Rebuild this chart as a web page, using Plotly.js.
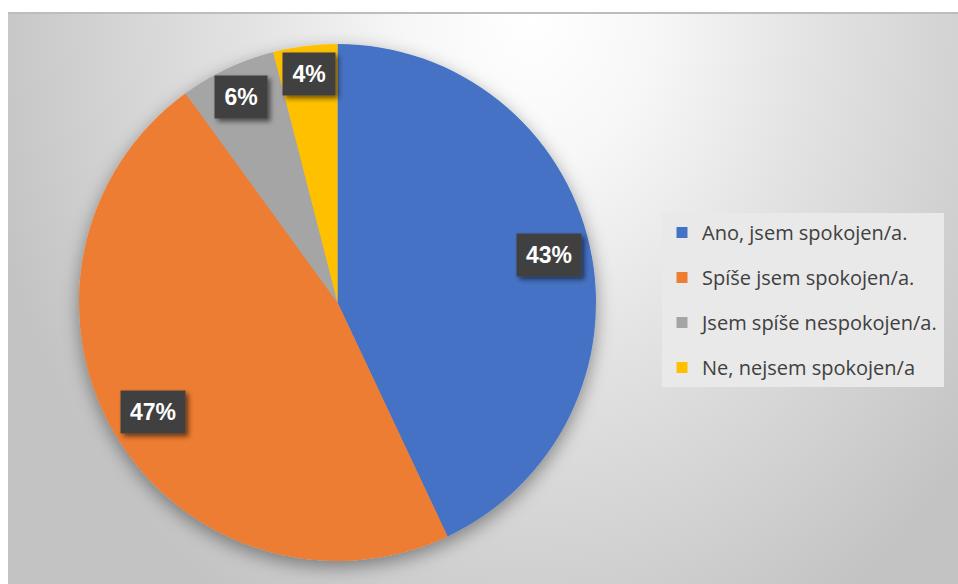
<!DOCTYPE html>
<html><head><meta charset="utf-8">
<script src="https://cdn.plot.ly/plotly-3.0.1.min.js"></script>
<style>
html,body{margin:0;padding:0;background:#fff;}
#wrap{position:relative;width:958px;height:584px;overflow:hidden;background:#fff;}
#bg{position:absolute;left:8px;top:12px;right:0;bottom:0;border-top:2px solid #bdbdbd;
 background:radial-gradient(ellipse 560px 700px at 522px 0px,#ffffff 0%,#f7f7f7 22%,#e3e3e3 50%,#cfcfcf 82%,#c3c3c3 100%);}
#chart{position:absolute;left:0;top:0;width:958px;height:584px;}
</style></head>
<body>
<svg width="0" height="0" style="position:absolute">
 <defs>
  <filter id="pieShadow" x="-20%" y="-20%" width="140%" height="140%">
   <feDropShadow dx="0" dy="6" stdDeviation="9" flood-color="#000" flood-opacity="0.4"/>
  </filter>
  <filter id="boxShadow" x="-30%" y="-30%" width="160%" height="160%">
   <feDropShadow dx="3" dy="3" stdDeviation="2.5" flood-color="#000" flood-opacity="0.55"/>
  </filter>
 </defs>
</svg>
<div id="wrap"><div id="bg"></div><div id="chart"></div></div>
<script>
// ---- data ----
const categories = ["Ano, jsem spokojen/a.", "Spíše jsem spokojen/a.", "Jsem spíše nespokojen/a.", "Ne, nejsem spokojen/a"];
const values = [43, 47, 6, 4];
const percentLabels = ["43%", "47%", "6%", "4%"];
const colors = ["#4472C4", "#ED7D31", "#A5A5A5", "#FFC000"];

// ---- layout constants ----
const W = 958, H = 584;
const pieDomX = [79 / W, 596 / W];
const pieDomY = [1 - 561 / H, 1 - 44 / H];
const labelRadiusFrac = [0.84, 0.83, 0.88, 0.89];

const pieTrace = {
  type: 'pie',
  values: values,
  labels: categories,
  marker: {colors: colors, line: {width: 0}},
  sort: false,
  direction: 'clockwise',
  rotation: 0,
  textinfo: 'none',
  hoverinfo: 'label+percent',
  showlegend: false,
  domain: {x: pieDomX, y: pieDomY}
};

// legend entries (one per category) so the legend spacing can be controlled
const legendTraces = categories.map((c, i) => ({
  type: 'scatter',
  mode: 'markers',
  x: [null], y: [null],
  name: c,
  legendgroup: 'g' + i,
  marker: {symbol: 'square', size: 11, color: colors[i]},
  hoverinfo: 'skip'
}));

// label positions derived from the pie geometry and values
const total = values.reduce((a, b) => a + b, 0);
const cxPx = (pieDomX[0] + pieDomX[1]) / 2 * W;
const cyPx = (1 - (pieDomY[0] + pieDomY[1]) / 2) * H;
const rPx = Math.min((pieDomX[1] - pieDomX[0]) * W, (pieDomY[1] - pieDomY[0]) * H) / 2;
let cum = 0;
const annotations = values.map((v, i) => {
  const mid = (cum + v / 2) / total * 2 * Math.PI;
  cum += v;
  const rr = labelRadiusFrac[i] * rPx;
  const xp = cxPx + rr * Math.sin(mid);
  const yp = cyPx - rr * Math.cos(mid);
  return {
    x: xp / W, y: 1 - yp / H, xref: 'paper', yref: 'paper',
    text: '<b>' + percentLabels[i] + '</b>',
    showarrow: false,
    font: {family: 'Liberation Sans, Arial, sans-serif', size: 23, color: '#ffffff'},
    bgcolor: '#404040',
    width: 26 + 12 * percentLabels[i].length,
    height: 40,
    xanchor: 'center', yanchor: 'middle'
  };
});

const layout = {
  width: W, height: H,
  margin: {l: 0, r: 0, t: 0, b: 0},
  paper_bgcolor: 'rgba(0,0,0,0)',
  plot_bgcolor: 'rgba(0,0,0,0)',
  xaxis: {visible: false, domain: [0.9, 0.95]},
  yaxis: {visible: false, domain: [0.9, 0.95]},
  showlegend: true,
  legend: {
    x: 662 / W, xanchor: 'left',
    y: 1 - 213 / H, yanchor: 'top',
    bgcolor: '#e9e9e9',
    borderwidth: 0,
    font: {family: 'Open Sans, sans-serif', size: 20, color: '#404040'},
    traceorder: 'grouped',
    tracegroupgap: 16,
    itemclick: false, itemdoubleclick: false
  },
  annotations: annotations
};

Plotly.newPlot('chart', [pieTrace].concat(legendTraces), layout, {displayModeBar: false}).then(() => {
  document.querySelectorAll('#chart .pielayer .trace').forEach(el => el.setAttribute('filter', 'url(#pieShadow)'));
  document.querySelectorAll('#chart .annotation rect.bg').forEach(el => el.setAttribute('filter', 'url(#boxShadow)'));
});
</script>
</body></html>
